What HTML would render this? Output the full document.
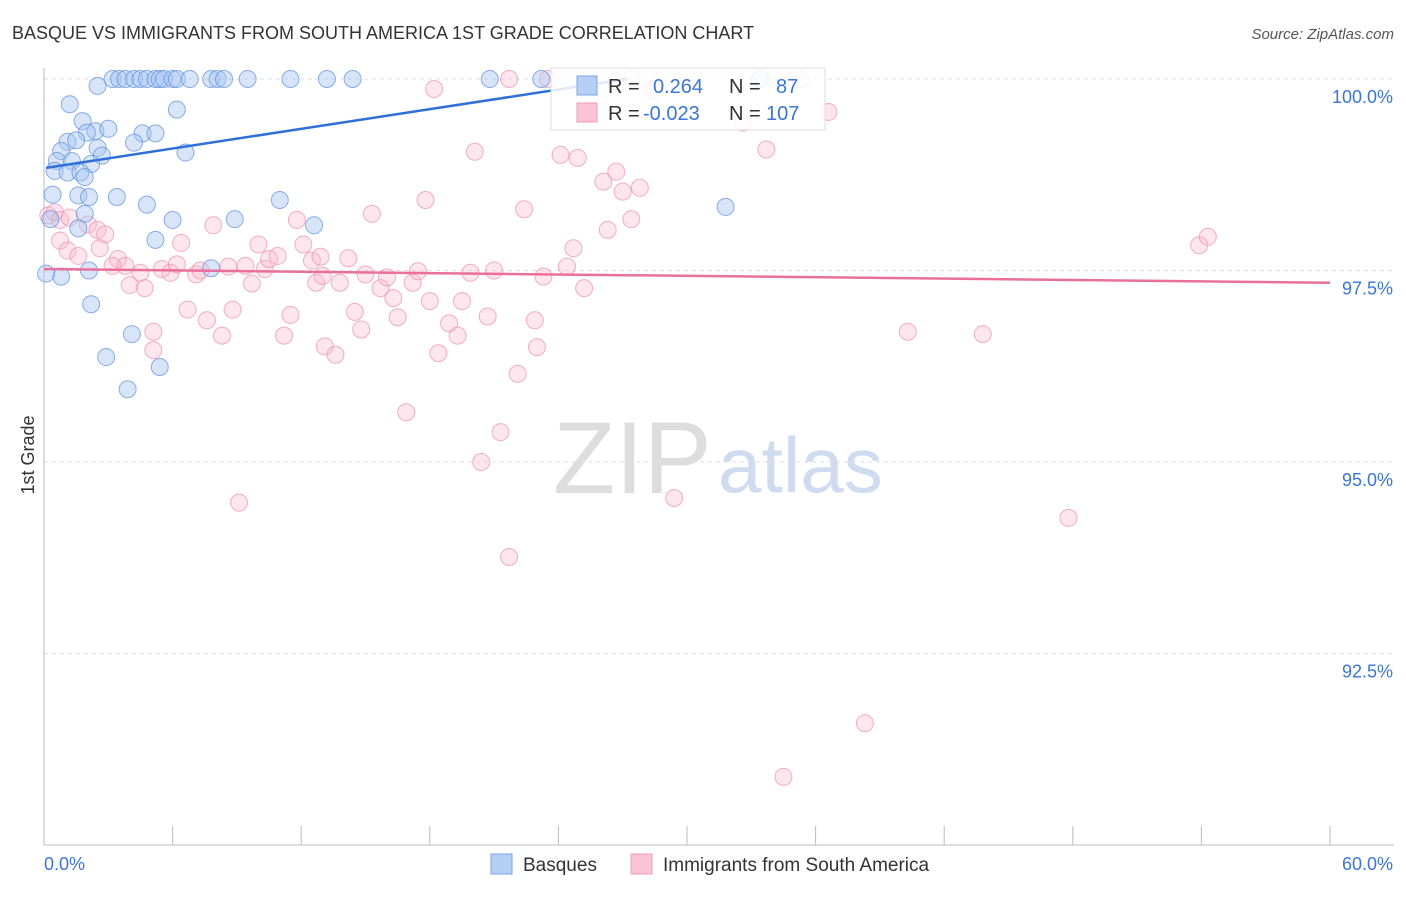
<!DOCTYPE html>
<html><head><meta charset="utf-8"><style>
body{margin:0;background:#fff;font-family:"Liberation Sans",sans-serif}
svg text{font-family:"Liberation Sans",sans-serif}
</style></head><body>
<svg id="chart" width="1406" height="892">
<text x="12" y="39" font-size="18" fill="#333">BASQUE VS IMMIGRANTS FROM SOUTH AMERICA 1ST GRADE CORRELATION CHART</text>
<text x="1394" y="39" font-size="15" fill="#555" font-style="italic" text-anchor="end">Source: ZipAtlas.com</text>
<text x="34" y="455" font-size="18" fill="#333" transform="rotate(-90 34 455)" text-anchor="middle">1st Grade</text>
<text x="553" y="493" font-size="102" fill="#ddd" font-family="Liberation Serif">ZIP</text>
<text x="718" y="492" font-size="78" fill="#cfdcf0">atlas</text>
<g id="grid"></g><g id="pts"></g><g id="lines"></g>
<g>
<rect x="551" y="68" width="274" height="62" fill="#fff" fill-opacity="0.85" stroke="#ddd"/>
<rect x="577" y="76" width="20" height="19" fill="#b6d0f5" stroke="#7aa5e6"/>
<rect x="577" y="103" width="20" height="19" fill="#fbc4d6" stroke="#f09ab8"/>
<text x="608" y="93" font-size="20" fill="#333">R = </text><text x="653" y="93" font-size="20" fill="#3a76d6">0.264</text>
<text x="729" y="93" font-size="20" fill="#333">N = </text><text x="776" y="93" font-size="20" fill="#3a76d6">87</text>
<text x="608" y="120" font-size="20" fill="#333">R = </text><text x="643" y="120" font-size="20" fill="#3a76d6">-0.023</text>
<text x="729" y="120" font-size="20" fill="#333">N = </text><text x="766" y="120" font-size="20" fill="#3a76d6">107</text>
</g>
<g>
<rect x="491" y="854" width="21" height="20" fill="#b6d0f5" stroke="#7aa5e6"/>
<text x="523" y="871" font-size="19" fill="#333">Basques</text>
<rect x="631" y="854" width="21" height="20" fill="#fbc4d6" stroke="#f09ab8"/>
<text x="663" y="871" font-size="19" fill="#333">Immigrants from South America</text>
</g>
</svg>
<script>
const yTicks=[100,97.5,95,92.5];
const yTickLabels=["100.0%","97.5%","95.0%","92.5%"];
const xTickCount=11;
const basqueX=[2.5,3.2,3.5,3.8,4.2,4.5,4.8,5.2,5.4,5.6,6.0,6.2,6.8,7.8,8.1,8.4,9.5,11.5,13.2,14.4,20.8,23.2,33.4,1.2,6.2,1.8,2.4,3.0,2.0,4.6,5.2,1.1,1.5,4.2,2.5,0.8,2.7,6.6,0.6,1.3,2.2,0.5,1.1,1.7,1.9,0.4,1.6,2.1,3.4,4.8,11.0,31.8,0.3,1.9,6.0,8.9,12.6,1.6,5.2,7.8,2.1,0.8,0.1,2.2,4.1,2.9,5.4,3.9];
const basqueY=[99.91,100,100,100,100,100,100,100,100,100,100,100,100,100,100,100,100,100,100,100,100,100,100,99.67,99.6,99.45,99.32,99.35,99.3,99.29,99.29,99.18,99.2,99.17,99.1,99.06,99.0,99.04,98.93,98.93,98.89,98.8,98.78,98.78,98.72,98.49,98.48,98.46,98.46,98.36,98.42,98.33,98.17,98.24,98.16,98.17,98.09,98.05,97.9,97.53,97.5,97.42,97.46,97.06,96.67,96.37,96.24,95.95];
const immX=[0.2,0.5,0.75,1.2,2.05,2.5,2.85,0.75,1.1,2.6,1.6,3.45,3.2,3.8,4.5,4.0,4.7,5.5,5.9,6.2,6.4,7.1,7.3,7.9,8.6,9.4,9.7,10.0,10.3,10.5,10.9,11.8,12.1,12.5,12.9,12.7,13.0,14.2,13.8,15.0,15.3,15.7,16.0,16.3,17.2,17.45,17.8,18.0,19.5,19.9,21.0,22.4,23.3,24.7,24.4,25.2,6.7,7.6,8.8,8.3,11.5,11.2,13.1,13.6,14.5,14.8,16.5,18.9,19.3,20.7,22.9,18.4,23.0,22.1,5.1,5.1,16.9,21.3,20.4,9.1,21.7,29.4,47.8,38.3,34.5,40.3,43.8,53.9,54.3,18.2,20.1,21.7,24.1,24.9,26.1,26.7,27.0,27.8,27.4,26.3,33.7,32.6,36.6,35.3,23.5,27.4,28.4];
const immY=[98.22,98.26,98.16,98.19,98.10,98.03,97.97,97.89,97.76,97.79,97.69,97.65,97.56,97.56,97.47,97.31,97.27,97.52,97.47,97.58,97.86,97.45,97.50,98.09,97.55,97.56,97.33,97.84,97.52,97.65,97.69,98.16,97.84,97.63,97.68,97.34,97.43,97.66,97.34,97.45,98.24,97.27,97.41,97.14,97.34,97.49,98.42,97.10,97.10,97.47,97.50,98.30,97.42,97.79,97.55,97.27,96.99,96.85,96.99,96.65,96.92,96.65,96.51,96.40,96.96,96.73,96.89,96.81,96.65,96.90,96.85,96.42,96.50,96.15,96.70,96.46,95.65,95.39,95.00,94.47,93.76,94.53,94.27,91.59,90.89,96.70,96.67,97.83,97.94,99.87,99.05,100,99.01,98.97,98.66,98.79,98.53,98.58,98.17,98.03,99.08,99.43,99.57,100,100,100,99.86];
const basqueLine=[98.84,100.0];
const immLine=[97.52,97.34];
const NS="http://www.w3.org/2000/svg";
const X0=44,X1=1330,XMAX=60;
const sx=v=>X0+v/XMAX*(X1-X0);
const sy=v=>79+(100-v)/2.5*191.5;
function mk(t,a,p){const e=document.createElementNS(NS,t);for(const k in a)e.setAttribute(k,a[k]);p.appendChild(e);return e;}
const grid=document.getElementById('grid');
yTicks.forEach((t,i)=>{
 const l=mk('line',{x1:X0,x2:1394,y1:sy(t),y2:sy(t),stroke:'#ddd','stroke-dasharray':'4,4'},grid);
 
 
 const tx=mk('text',{x:1393,y:sy(t)+24,'font-size':18,fill:'#3a76d6','text-anchor':'end'},grid);
 tx.textContent=yTickLabels[i];
 
 
});
mk('line',{x1:X0,x2:X0,y1:68,y2:845,stroke:'#bbb'},grid);
mk('line',{x1:X0,x2:1394,y1:845,y2:845,stroke:'#bbb'},grid);
for(let i=0;i<xTickCount;i++){const x=sx(i*6);mk('line',{x1:x,x2:x,y1:826,y2:845,stroke:'#bbb'},grid);}
const xl=mk('text',{x:44,y:870,'font-size':18,fill:'#3a76d6'},grid);xl.textContent='0.0%';


const xr=mk('text',{x:1393,y:870,'font-size':18,fill:'#3a76d6','text-anchor':'end'},grid);xr.textContent='60.0%';


const pts=document.getElementById('pts');
immX.forEach((v,i)=>{const c=mk('circle',{cx:sx(v),cy:sy(immY[i]),r:8.5,fill:'#f8b8cc','fill-opacity':0.35,stroke:'#ec8fae','stroke-opacity':0.7},pts);
 
 });
basqueX.forEach((v,i)=>{const c=mk('circle',{cx:sx(v),cy:sy(basqueY[i]),r:8.5,fill:'#a9c6f2','fill-opacity':0.45,stroke:'#5b8fdc','stroke-opacity':0.7},pts);
 
 });
const lines=document.getElementById('lines');
const bl=mk('line',{x1:sx(0.1),y1:sy(basqueLine[0]),x2:sx(27.2),y2:sy(basqueLine[1]),stroke:'#2f6fd8','stroke-width':2.5},lines);


const pl=mk('line',{x1:sx(0),y1:sy(immLine[0]),x2:sx(60),y2:sy(immLine[1]),stroke:'#e8709a','stroke-width':2.5},lines);


</script>
</body></html>
